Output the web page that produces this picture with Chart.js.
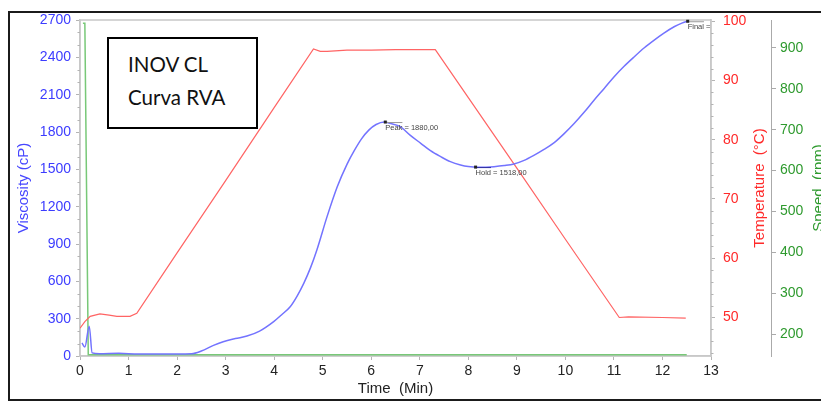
<!DOCTYPE html>
<html>
<head>
<meta charset="utf-8">
<title>INOV CL - Curva RVA</title>
<script src="https://cdn.jsdelivr.net/npm/chart.js@4.4.1/dist/chart.umd.min.js"></script>
<style>
  html, body { margin: 0; padding: 0; background: #fff; overflow: hidden; width: 821px; height: 405px; }
  #wrap { position: relative; width: 821px; height: 405px; overflow: hidden; }
  #myChart { position: absolute; left: 0; top: 0; }
  #frame { position: absolute; left: 8px; top: 11px; width: 900px; height: 386px; border: 2px solid #1b1b1b; pointer-events: none; }
  #label { position: absolute; left: 107px; top: 37px; width: 151px; height: 92px; box-sizing: border-box; border: 2px solid #000; background: #fff; padding: 9px 0 0 19px; font: 20.5px/33px Lato, sans-serif; color: #111; }
</style>
</head>
<body>
<div id="wrap">
  <canvas id="myChart" width="840" height="405"></canvas>
  <div id="frame"></div>
  <div id="label">INOV CL<br>Curva RVA</div>
</div>
<script>
// tick labels
const xTicks = [0, 1, 2, 3, 4, 5, 6, 7, 8, 9, 10, 11, 12, 13];
const viscTicks = [0, 300, 600, 900, 1200, 1500, 1800, 2100, 2400, 2700];
const tempTicks = [50, 60, 70, 80, 90, 100];
const speedTicks = [200, 300, 400, 500, 600, 700, 800, 900];

// viscosity (cP) vs time (min)
const viscTime = [0.04, 0.10, 0.19, 0.25, 0.4, 0.8, 1.2, 1.6, 2.0, 2.3, 2.5, 2.75, 2.95, 3.2, 3.44, 3.7, 3.99,
  4.15, 4.33, 4.47, 4.61, 4.75, 4.88, 5.09, 5.30, 5.50, 5.65, 5.80, 5.95, 6.1, 6.27, 6.4, 6.6, 6.8, 7.02,
  7.22, 7.43, 7.63, 7.84, 8.0, 8.19, 8.36, 8.53, 8.74, 8.94, 9.15, 9.35, 9.56, 9.77, 9.97, 10.18, 10.39,
  10.59, 10.8, 11.0, 11.21, 11.42, 11.62, 11.83, 12.03, 12.24, 12.4, 12.52];
const viscValues = [105, 72, 240, 25, 18, 22, 16, 17, 16, 18, 40, 85, 115, 140, 160, 200, 276,
  330, 396, 480, 584, 710, 852, 1120, 1360, 1540, 1650, 1745, 1815, 1860, 1880, 1868, 1843, 1775, 1709,
  1650, 1602, 1562, 1535, 1522, 1516, 1517, 1521, 1530, 1543, 1572, 1612, 1660, 1715, 1785, 1868, 1960,
  2055, 2150, 2242, 2328, 2405, 2475, 2539, 2595, 2646, 2675, 2690];

// temperature (°C) vs time (min)
const tempTime = [0.0, 0.1, 0.21, 0.41, 0.6, 0.76, 1.03, 1.17, 2.0, 3.0, 4.0, 4.81, 4.95, 5.09, 5.5, 6.0,
  6.5, 7.0, 7.32, 8.0, 9.0, 10.0, 11.11, 11.3, 12.0, 12.48];
const tempValues = [48.2, 49.3, 50.2, 50.6, 50.4, 50.2, 50.2, 50.7, 60.9, 73.1, 85.4, 95.3, 94.9, 94.9, 95.1, 95.1,
  95.2, 95.2, 95.2, 87.1, 75.2, 63.2, 50.0, 50.1, 50.0, 49.9];

// speed (rpm) vs time (min)
const speedTime = [0.06, 0.1, 0.17, 12.5];
const speedValues = [960, 960, 150, 150];

// marked points
const markerLabels = ["Peak = 1880,00", "Hold = 1518,00", "Final = "];
const markerTime = [6.29, 8.15, 12.52];
const markerValues = [1880, 1518, 2690];

const toPoints = (xs, ys) => xs.map((x, i) => ({ x: x, y: ys[i] }));
const fixTicks = list => scale => { scale.ticks = list.map(v => ({ value: v })); };
const plainLabel = v => String(v);

Chart.defaults.font.family = "'Liberation Sans', Arial, sans-serif";

function sideTitle(ctx, text, x, y, color) {
  ctx.save();
  ctx.translate(x, y);
  ctx.rotate(-Math.PI / 2);
  ctx.fillStyle = color;
  ctx.font = "15px 'Liberation Sans', Arial, sans-serif";
  ctx.textAlign = "center";
  ctx.textBaseline = "middle";
  ctx.fillText(text, 0, 0);
  ctx.restore();
}

const rvaExtras = {
  id: "rvaExtras",
  beforeDatasetsDraw(chart) {
    const { ctx, chartArea: a } = chart;
    ctx.save();
    ctx.strokeStyle = "#c8c8c8";
    ctx.lineWidth = 1.5;
    ctx.strokeRect(a.left, a.top, a.right - a.left, a.bottom - a.top);
    // minor ticks
    ctx.strokeStyle = "#b4b4b4";
    ctx.lineWidth = 1;
    ctx.beginPath();
    const y = chart.scales.y;
    for (let v = 100; v < 2700; v += 100) {
      if (v % 300 === 0) continue;
      const p = Math.round(y.getPixelForValue(v)) + 0.5;
      ctx.moveTo(a.left - 2.5, p);
      ctx.lineTo(a.left, p);
    }
    const t = chart.scales.temp;
    for (let v = 44; v < 100; v += 2) {
      if (v % 10 === 0) continue;
      const p = Math.round(t.getPixelForValue(v)) + 0.5;
      ctx.moveTo(a.right, p);
      ctx.lineTo(a.right + 2.5, p);
    }
    ctx.stroke();
    ctx.restore();
  },
  afterDraw(chart) {
    const { ctx, chartArea: a, scales } = chart;
    ctx.save();
    ctx.beginPath();
    ctx.rect(a.left, a.top - 4, a.right - a.left, a.bottom - a.top + 4);
    ctx.clip();
    ctx.font = "7.5px 'Liberation Sans', Arial, sans-serif";
    ctx.textBaseline = "middle";
    markerLabels.forEach((label, i) => {
      const x = scales.x.getPixelForValue(markerTime[i]);
      const y = scales.y.getPixelForValue(markerValues[i]);
      const w = ctx.measureText(label.split(" ")[0]).width;
      ctx.strokeStyle = i === 1 ? "#3030a0" : "#999";
      ctx.lineWidth = 1;
      ctx.beginPath();
      ctx.moveTo(x, y + 0.5);
      ctx.lineTo(x + w, y + 0.5);
      ctx.stroke();
      ctx.fillStyle = "#222";
      ctx.fillRect(x - 1.5, y - 1.5, 3, 3);
      ctx.fillStyle = "#444";
      ctx.fillText(label, x, y + 6);
    });
    ctx.restore();

    const midY = (a.top + a.bottom) / 2;
    sideTitle(ctx, "Temperature  (°C)", scales.temp.left + 49, midY, "#ff2a2a");
    sideTitle(ctx, "Speed  (rpm)", scales.speed.left + 48, midY, "#2e9a2e");
  }
};

const ctx = document.getElementById("myChart");

const chart = new Chart(ctx, {
  type: "line",
  data: {
    datasets: [
      {
        label: "Viscosity",
        data: toPoints(viscTime, viscValues),
        yAxisID: "y",
        borderColor: "rgb(115, 115, 255)",
        borderWidth: 1.5,
        cubicInterpolationMode: "monotone",
        order: 0,
      },
      {
        label: "Temperature",
        data: toPoints(tempTime, tempValues),
        yAxisID: "temp",
        borderColor: "rgb(255, 100, 100)",
        borderWidth: 1.2,
        tension: 0,
        order: 1,
      },
      {
        label: "Speed",
        data: toPoints(speedTime, speedValues),
        yAxisID: "speed",
        borderColor: "rgb(120, 200, 120)",
        borderWidth: 1.5,
        tension: 0,
        order: 2,
      },
    ],
  },
  options: {
    responsive: false,
    animation: false,
    layout: { padding: { left: 10, right: 0, top: 20, bottom: 0 } },
    elements: { point: { radius: 0 } },
    plugins: {
      legend: { display: false },
      tooltip: { enabled: false },
    },
    scales: {
      x: {
        type: "linear",
        min: 0,
        max: 13,
        afterBuildTicks: fixTicks(xTicks),
        afterFit: s => { s.height = 49; },
        grid: { drawOnChartArea: false, tickLength: 4, color: "#b4b4b4" },
        border: { color: "#c8c8c8", width: 1.5 },
        ticks: { color: "#222", font: { size: 14 }, padding: 3, maxRotation: 0, callback: plainLabel },
        title: { display: true, text: "Time  (Min)", color: "#222", font: { size: 15 }, padding: { top: 0, bottom: 7 } },
      },
      y: {
        position: "left",
        min: 0,
        max: 2700,
        afterBuildTicks: fixTicks(viscTicks),
        afterFit: s => { s.width = 70; },
        grid: { drawOnChartArea: false, tickLength: 4, color: "#b4b4b4" },
        border: { color: "#c8c8c8", width: 1.5 },
        ticks: { color: "rgb(60, 60, 255)", font: { size: 14 }, padding: 5, callback: plainLabel },
        title: { display: true, text: "Viscosity (cP)", color: "rgb(70, 70, 255)", font: { size: 15 }, padding: { top: 5, bottom: 0 } },
      },
      temp: {
        position: "right",
        min: 43.5,
        max: 100.2,
        afterBuildTicks: fixTicks(tempTicks),
        afterFit: s => { s.width = 60; },
        grid: { drawOnChartArea: false, tickLength: 4, color: "#b4b4b4" },
        border: { color: "#c8c8c8", width: 1.5 },
        ticks: { color: "#ff2a2a", font: { size: 14 }, padding: 8, callback: plainLabel },
      },
      speed: {
        position: "right",
        min: 147,
        max: 968,
        afterBuildTicks: fixTicks(speedTicks),
        afterFit: s => { s.width = 69; },
        grid: { drawOnChartArea: false, tickLength: 5, color: "#aaa" },
        border: { color: "#aaa", width: 1 },
        ticks: { color: "#2e9a2e", font: { size: 14 }, padding: 4, callback: plainLabel },
      },
    },
  },
  plugins: [rvaExtras],
});
</script>
</body>
</html>
